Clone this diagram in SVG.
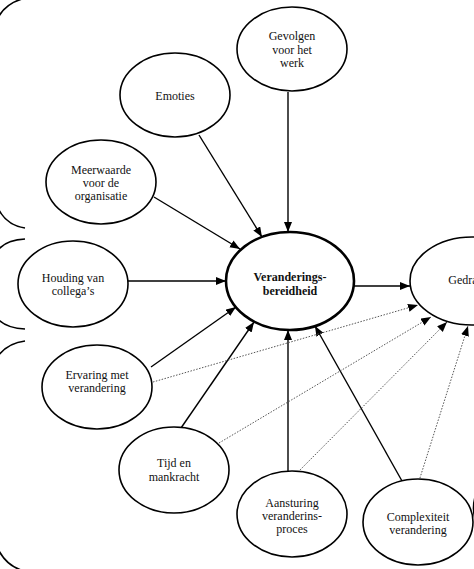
<svg xmlns="http://www.w3.org/2000/svg" width="474" height="569" viewBox="0 0 474 569">
<style>
.n ellipse{fill:#fff;stroke:#000;stroke-width:1.6}
.n text{font-family:"Liberation Serif","Times New Roman",serif;font-size:12px;fill:#111;text-anchor:middle}
.s{stroke:#000;stroke-width:1.4;fill:none;marker-end:url(#ah)}
.d{stroke:#555;stroke-width:1;stroke-dasharray:1.5 1.5;fill:none;marker-end:url(#ah)}
.b{stroke:#000;stroke-width:1.6;fill:none}
</style>
<defs>
<marker id="ah" markerUnits="userSpaceOnUse" markerWidth="11" markerHeight="9" refX="10" refY="4" orient="auto">
<path d="M0,0 L10,4 L0,8 z" fill="#000"/>
</marker>
</defs>
<g id="braces">
<path class="b" d="M22 -1 Q5 4 -2 18"/>
<path class="b" d="M-2 208 Q6 225 25 228"/>
<path class="b" d="M25 239 Q6 240 -2 250"/>
<path class="b" d="M-2 319 Q6 328 25 329"/>
<path class="b" d="M25 341 Q8 343 -2 356"/>
<path class="b" d="M-2 549 Q6 565 21 570"/>
<path class="b" d="M476 494 Q471 508 476 522"/>
</g>
<g id="connectors">
<path class="s" d="M288 92 L288 232"/>
<path class="s" d="M199 135 L262 237"/>
<path class="s" d="M154 197 L240 249"/>
<path class="s" d="M128 281 L226 281"/>
<path class="s" d="M151 367 L236 307"/>
<path class="s" d="M181 428 L254 322"/>
<path class="s" d="M288 472 L288 330"/>
<path class="s" d="M402 481 L315 326"/>
<path class="s" d="M354 286 L410 286"/>
<path class="d" d="M153 382 L418 305"/>
<path class="d" d="M219 443 L431 317"/>
<path class="d" d="M298 472 L447 322"/>
<path class="d" d="M419 481 L468 326"/>
</g>
<g id="gevolgen" class="n"><ellipse cx="292" cy="49" rx="55" ry="42"/><text x="292" y="40">Gevolgen</text><text x="292" y="54">voor het</text><text x="292" y="67">werk</text></g>
<g id="emoties" class="n"><ellipse cx="175" cy="95" rx="55" ry="42"/><text x="175" y="100">Emoties</text></g>
<g id="meerwaarde" class="n"><ellipse cx="101" cy="182" rx="55" ry="42"/><text x="101" y="174">Meerwaarde</text><text x="101" y="187">voor  de</text><text x="101" y="200">organisatie</text></g>
<g id="houding" class="n"><ellipse cx="73" cy="284" rx="55" ry="43"/><text x="73" y="282">Houding van</text><text x="73" y="295">collega’s</text></g>
<g id="veranderingsbereidheid" class="n"><ellipse cx="290" cy="281" rx="64" ry="49" style="stroke-width:2.6"/><text x="290" y="281" style="font-weight:bold">Veranderings-</text><text x="290" y="295" style="font-weight:bold">bereidheid</text></g>
<g id="gedrag" class="n"><ellipse cx="472" cy="281" rx="62" ry="44"/><text x="466" y="284">Gedrag</text></g>
<g id="ervaring" class="n"><ellipse cx="97" cy="387" rx="55" ry="42"/><text x="97" y="379">Ervaring met</text><text x="97" y="392">verandering</text></g>
<g id="tijd" class="n"><ellipse cx="174" cy="470" rx="55" ry="43"/><text x="174" y="467">Tijd en</text><text x="174" y="481">mankracht</text></g>
<g id="aansturing" class="n"><ellipse cx="292" cy="514" rx="55" ry="43"/><text x="292" y="507">Aansturing</text><text x="292" y="520">veranderins-</text><text x="292" y="533">proces</text></g>
<g id="complexiteit" class="n"><ellipse cx="418" cy="522" rx="55" ry="43"/><text x="418" y="521">Complexiteit</text><text x="418" y="534">verandering</text></g>
</svg>
